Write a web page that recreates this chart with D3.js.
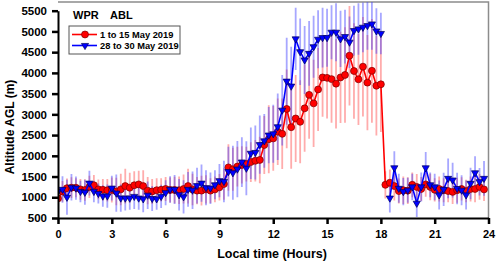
<!DOCTYPE html>
<html>
<head>
<meta charset="utf-8">
<script src="https://cdn.jsdelivr.net/npm/d3@7"></script>
<style>
    body { margin: 0; background: #fff; }
    text { font-family: "Liberation Sans", Arial, sans-serif; font-weight: bold; }
</style>
</head>
<body>
<div id="chart"></div>
<script>

// local time of each 15 min bin (hours)
var hours = [
    0, 0.25, 0.5, 0.75, 1, 1.25, 1.5, 1.75, 2, 2.25, 2.5, 2.75,
    3, 3.25, 3.5, 3.75, 4, 4.25, 4.5, 4.75, 5, 5.25, 5.5, 5.75,
    6, 6.25, 6.5, 6.75, 7, 7.25, 7.5, 7.75, 8, 8.25, 8.5, 8.75,
    9, 9.25, 9.5, 9.75, 10, 10.25, 10.5, 10.75, 11, 11.25, 11.5, 11.75,
    12, 12.25, 12.5, 12.75, 13, 13.25, 13.5, 13.75, 14, 14.25, 14.5, 14.75,
    15, 15.25, 15.5, 15.75, 16, 16.25, 16.5, 16.75, 17, 17.25, 17.5, 17.75,
    18, 18.25, 18.5, 18.75, 19, 19.25, 19.5, 19.75, 20, 20.25, 20.5, 20.75,
    21, 21.25, 21.5, 21.75, 22, 22.25, 22.5, 22.75, 23, 23.25, 23.5, 23.75
];

// 1 to 15 May 2019 (m)
var mayEarlyAbl = [
    970, 1140, 1220, 1230, 1230, 1190, 1175, 1250, 1290, 1190, 1180, 1170,
    1175, 1140, 1190, 1270, 1230, 1290, 1310, 1270, 1160, 1140, 1170, 1180,
    1200, 1175, 1175, 1170, 1200, 1270, 1190, 1160, 1160, 1190, 1160, 1190,
    1240, 1320, 1720, 1675, 1740, 1780, 1800, 1850, 1880, 1900, 2260, 2400,
    2420, 2580, 2530, 3130, 2690, 2900, 2820, 3145, 3470, 3265, 3600, 3890,
    3880, 3850, 3740, 3890, 3950, 4415, 4045, 3845, 4150, 3765, 4050, 3690,
    3725, 1300, 1350, 1270, 1150, 1170, 1160, 1300, 1250, 1200, 1310, 1250,
    1180, 1200, 1170, 1150, 1130, 1170, 1200, 1150, 1200, 1200, 1250, 1190
];
var mayEarlySd = [
    220, 250, 230, 250, 230, 250, 260, 270, 250, 240, 260, 270,
    300, 330, 380, 420, 360, 340, 330, 380, 330, 300, 290, 280,
    290, 300, 320, 330, 350, 420, 380, 330, 360, 340, 300, 310,
    320, 380, 560, 520, 480, 450, 420, 480, 500, 560, 700, 820,
    780, 800, 850, 950, 1000, 1050, 1000, 1050, 1060, 1050, 1000, 950,
    980, 1050, 1080, 1100, 1150, 1200, 1150, 1100, 1200, 1150, 1250, 1200,
    1150, 330, 320, 350, 300, 330, 320, 300, 310, 290, 300, 320,
    280, 300, 290, 270, 290, 300, 280, 270, 300, 320, 310, 280
];

// 28 to 30 May 2019 (m), no profile at 18:15
var mayLateAbl = [
    1140, 1190, 1000, 1240, 1220, 1140, 1120, 1340, 1140, 1090, 1030, 1030,
    1220, 1100, 980, 980, 980, 1020, 980, 960, 1050, 970, 960, 1020,
    1110, 1190, 1190, 1060, 1010, 1190, 1170, 1280, 1340, 1230, 1220, 1300,
    1400, 1380, 1620, 1590, 1680, 1850, 1700, 2060, 2080, 2270, 2360, 2500,
    2530, 2700, 3100, 3800, 3680, 4820, 4510, 4310, 4470, 4630, 4810, 4850,
    4850, 4980, 4980, 4820, 4875, 4740, 5020, 5060, 5100, 5140, 5180, 5010,
    4950, null, 980, 1710, 1215, 1135, 1170, 1250, 855, 1250, 1710, 1300,
    1250, 1055, 1190, 1455, 1415, 1210, 1170, 1055, 1335, 1590, 1375, 1455
];
var mayLateSd = [
    300, 320, 420, 320, 280, 260, 300, 300, 260, 240, 260, 280,
    300, 450, 330, 300, 280, 300, 280, 320, 330, 300, 260, 280,
    300, 320, 350, 380, 400, 420, 450, 430, 450, 420, 380, 350,
    400, 500, 600, 650, 680, 600, 650, 620, 650, 700, 650, 680,
    700, 800, 850, 1050, 950, 750, 800, 820, 780, 750, 700, 720,
    700, 650, 700, 680, 650, 620, 600, 620, 600, 580, 620, 550,
    500, null, 350, 400, 350, 330, 300, 320, 330, 350, 380, 300,
    320, 350, 400, 480, 420, 380, 360, 350, 380, 400, 330, 420
];

var seriesNames = ["1 to 15 May 2019", "28 to 30 May 2019"];
var xTicks = [0, 3, 6, 9, 12, 15, 18, 21, 24];
var yTicks = [500, 1000, 1500, 2000, 2500, 3000, 3500, 4000, 4500, 5000, 5500];


AblChart = function(_parentElement, _series) {
    this.parentElement = _parentElement;
    this.series = _series;

    this.initVis();
}

AblChart.prototype.initVis = function() {
    var vis = this;

    vis.margin = { top: 2, right: 9.5, bottom: 45, left: 58 };
    vis.width = 498 - vis.margin.left - vis.margin.right;
    vis.height = 263 - vis.margin.top - vis.margin.bottom;

    vis.svg = d3.select("#" + vis.parentElement).append("svg")
        .attr("width", 498)
        .attr("height", 263)
        .append("g")
        .attr("transform", "translate(" + vis.margin.left + "," + vis.margin.top + ")");

    vis.x = d3.scaleLinear()
        .domain([0, 24])
        .range([0, vis.width]);
    // 500 m sits on the x axis, 5500 m about 8.7 px below the frame top
    vis.y = d3.scaleLinear()
        .domain([500, 5500])
        .range([vis.height, 8.7]);

    vis.svg.append("clipPath")
        .attr("id", "plot-clip")
        .append("rect")
        .attr("width", vis.width)
        .attr("height", vis.height);

    // grey frame on top and right
    vis.svg.append("path")
        .attr("d", "M0,0H" + vis.width + "V" + vis.height)
        .attr("fill", "none")
        .attr("stroke", "#8c8c8c")
        .attr("stroke-width", 1.5);

    vis.plot = vis.svg.append("g").attr("clip-path", "url(#plot-clip)");

    vis.xAxis = d3.axisBottom(vis.x)
        .tickValues(xTicks)
        .tickFormat(d3.format("d"))
        .tickSize(6)
        .tickSizeOuter(0)
        .tickPadding(6);
    vis.yAxis = d3.axisLeft(vis.y)
        .tickValues(yTicks)
        .tickFormat(d3.format("d"))
        .tickSize(6)
        .tickSizeOuter(0)
        .tickPadding(5);

    vis.svg.append("g")
        .attr("class", "x-axis axis")
        .attr("transform", "translate(0," + vis.height + ")");
    vis.svg.append("g")
        .attr("class", "y-axis axis");

    // axis titles
    vis.svg.append("text")
        .attr("x", 214)
        .attr("y", 256)
        .attr("text-anchor", "middle")
        .style("font-size", "12.5px")
        .text("Local time (Hours)");
    vis.svg.append("text")
        .attr("transform", "translate(-44.5,125) rotate(-90)")
        .attr("text-anchor", "middle")
        .style("font-size", "12px")
        .text("Altitude AGL (m)");

    vis.wrangleData();
}

AblChart.prototype.wrangleData = function() {
    var vis = this;

    vis.series.forEach(function(s) {
        s.points = hours.map(function(h, i) {
            return { hour: h, value: s.values[i], sd: s.sd[i] };
        });
    });

    vis.updateVis();
}

AblChart.prototype.updateVis = function() {
    var vis = this;

    var line = d3.line()
        .defined(function(d) { return d.value !== null; })
        .x(function(d) { return vis.x(d.hour); })
        .y(function(d) { return vis.y(d.value); });

    // error bars first, for both series
    vis.series.forEach(function(s) {
        vis.plot.append("g")
            .selectAll("line")
            .data(s.points.filter(function(d) { return d.value !== null; }))
            .enter()
            .append("line")
            .attr("x1", function(d) { return vis.x(d.hour); })
            .attr("x2", function(d) { return vis.x(d.hour); })
            .attr("y1", function(d) { return vis.y(d.value - d.sd); })
            .attr("y2", function(d) { return vis.y(d.value + d.sd); })
            .style("stroke", s.barColor)
            .style("stroke-width", 1.8);
    });

    // lines and markers
    vis.series.forEach(function(s) {
        vis.plot.append("path")
            .datum(s.points)
            .attr("d", line)
            .attr("fill", "none")
            .attr("stroke", s.color)
            .attr("stroke-width", 1.6);

        vis.plot.append("g")
            .selectAll("path")
            .data(s.points.filter(function(d) { return d.value !== null; }))
            .enter()
            .append("path")
            .attr("d", s.symbol)
            .attr("transform", function(d) {
                return "translate(" + vis.x(d.hour) + "," + vis.y(d.value) + ")" + s.rotate;
            })
            .style("fill", s.color)
            .style("stroke", s.edge)
            .style("stroke-width", 0.7);
    });

    // axes
    vis.svg.select(".x-axis").call(vis.xAxis);
    vis.svg.select(".y-axis").call(vis.yAxis);
    vis.svg.selectAll(".axis .domain")
        .attr("stroke", "#000")
        .attr("stroke-width", 2);
    vis.svg.selectAll(".axis .tick line")
        .attr("stroke", "#000")
        .attr("stroke-width", 2.5);
    vis.svg.selectAll(".axis text")
        .style("font-size", "11px")
        .style("font-family", "'Liberation Sans', Arial, sans-serif")
        .style("font-weight", "bold")
        .attr("fill", "#000");
    vis.svg.selectAll(".y-axis text").style("font-size", "11.5px");

    // legend
    var legend = vis.svg.append("g").attr("transform", "translate(11,0)");
    legend.append("text")
        .attr("x", 4)
        .attr("y", 17)
        .style("font-size", "11px")
        .text("WPR");
    legend.append("text")
        .attr("x", 41)
        .attr("y", 17)
        .style("font-size", "11px")
        .text("ABL");
    legend.append("rect")
        .attr("x", 0)
        .attr("y", 24)
        .attr("width", 111)
        .attr("height", 28)
        .attr("fill", "#fff")
        .attr("stroke", "#555")
        .attr("stroke-width", 1);

    var entry = legend.selectAll(".entry")
        .data(vis.series)
        .enter()
        .append("g")
        .attr("class", "entry")
        .attr("transform", function(d, i) { return "translate(0," + (32.5 + i * 11) + ")"; });
    entry.append("line")
        .attr("x1", 3)
        .attr("x2", 28)
        .style("stroke", function(d) { return d.color; })
        .style("stroke-width", 1.6);
    entry.append("path")
        .attr("d", function(d) { return d.symbol; })
        .attr("transform", function(d) { return "translate(16,0)" + d.rotate; })
        .style("fill", function(d) { return d.color; })
        .style("stroke", function(d) { return d.edge; })
        .style("stroke-width", 0.7);
    entry.append("text")
        .attr("x", 31)
        .attr("y", 3.4)
        .style("font-size", "9.3px")
        .text(function(d) { return d.name; });
}

var series = [
    {
        name: seriesNames[0], values: mayEarlyAbl, sd: mayEarlySd,
        color: "#ff0000", edge: "#7a0000", barColor: "rgba(255,70,70,0.45)",
        symbol: d3.symbol().type(d3.symbolCircle).size(38)(), rotate: ""
    },
    {
        name: seriesNames[1], values: mayLateAbl, sd: mayLateSd,
        color: "#0000ff", edge: "#00005a", barColor: "rgba(60,60,255,0.45)",
        symbol: d3.symbol().type(d3.symbolTriangle).size(22)(), rotate: " rotate(180)"
    }
];

var chart = new AblChart("chart", series);
</script>
</body>
</html>
